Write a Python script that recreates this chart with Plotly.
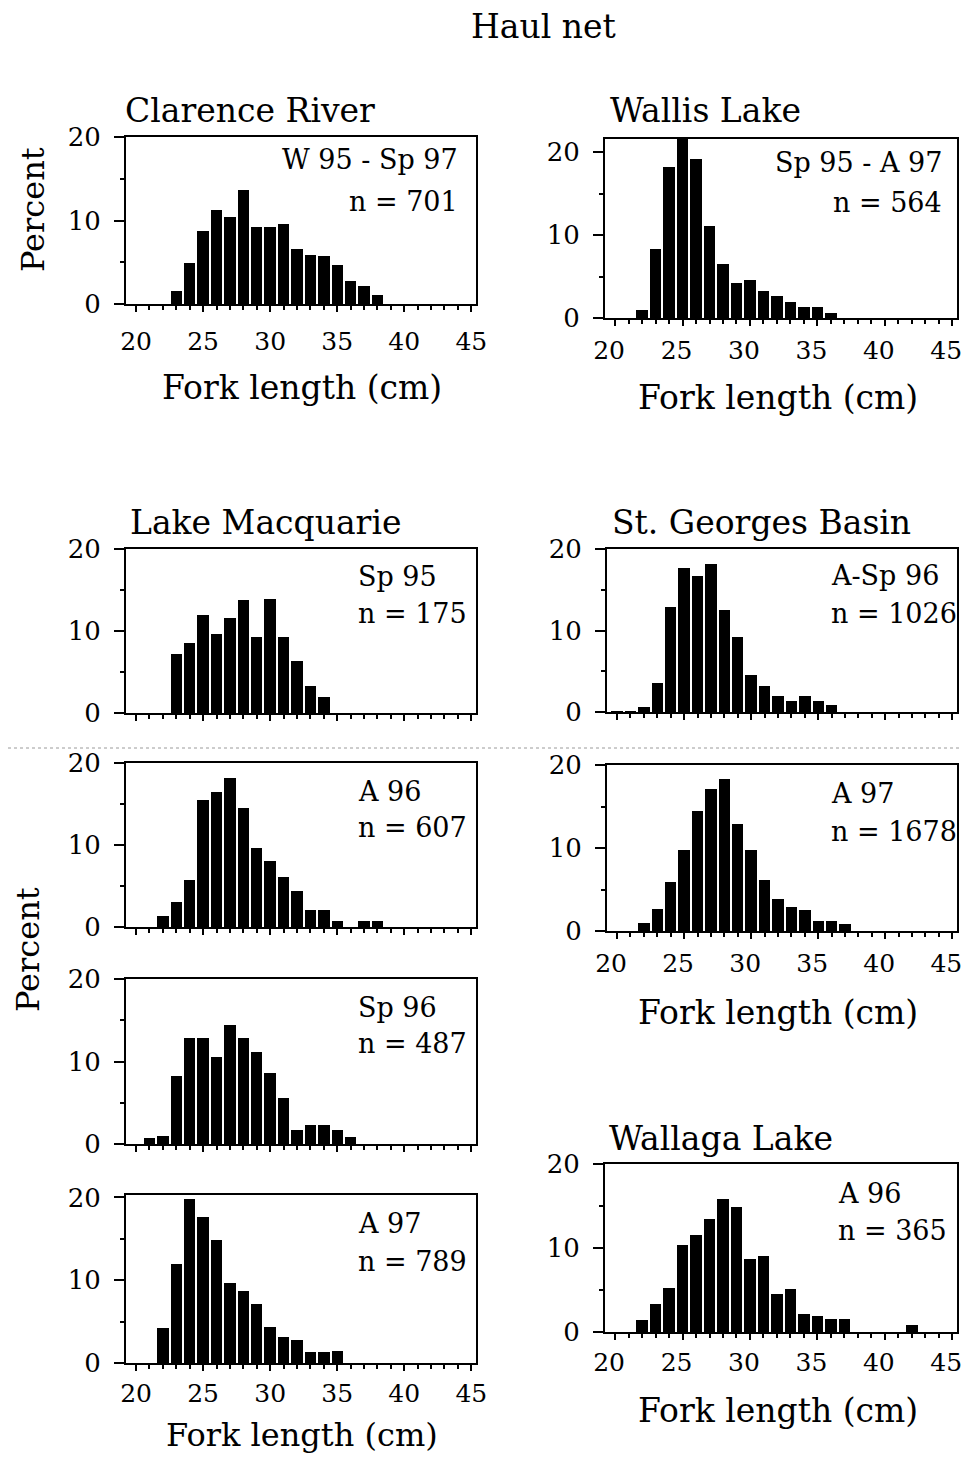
import plotly.graph_objects as go

# ---------------- data (fork length bins in cm, percent) ----------------
clarence_len = [23, 24, 25, 26, 27, 28, 29, 30, 31, 32, 33, 34, 35, 36, 37, 38]
clarence_pct = [1.6, 4.9, 8.8, 11.2, 10.4, 13.7, 9.2, 9.2, 9.6, 6.6, 5.9, 5.7, 4.7, 2.7, 2.1, 1.1]

wallis_len = [22, 23, 24, 25, 26, 27, 28, 29, 30, 31, 32, 33, 34, 35, 36]
wallis_pct = [1.0, 8.3, 18.2, 22.0, 19.2, 11.1, 6.5, 4.2, 4.6, 3.3, 2.6, 1.9, 1.3, 1.3, 0.6]

macq_sp95_len = [23, 24, 25, 26, 27, 28, 29, 30, 31, 32, 33, 34]
macq_sp95_pct = [7.2, 8.5, 11.9, 9.6, 11.6, 13.8, 9.3, 13.9, 9.3, 6.4, 3.3, 2.0]

macq_a96_len = [22, 23, 24, 25, 26, 27, 28, 29, 30, 31, 32, 33, 34, 35, 37, 38]
macq_a96_pct = [1.4, 3.1, 5.7, 15.5, 16.5, 18.2, 14.5, 9.6, 8.1, 6.1, 4.4, 2.1, 2.1, 0.7, 0.7, 0.7]

macq_sp96_len = [21, 22, 23, 24, 25, 26, 27, 28, 29, 30, 31, 32, 33, 34, 35, 36]
macq_sp96_pct = [0.7, 1.0, 8.2, 12.8, 12.8, 10.5, 14.4, 12.8, 11.2, 8.6, 5.6, 1.7, 2.3, 2.3, 1.7, 0.8]

macq_a97_len = [22, 23, 24, 25, 26, 27, 28, 29, 30, 31, 32, 33, 34, 35]
macq_a97_pct = [4.2, 12.0, 19.8, 17.6, 14.9, 9.7, 8.7, 7.1, 4.3, 3.2, 2.8, 1.3, 1.3, 1.5]

sg_asp96_len = [20, 21, 22, 23, 24, 25, 26, 27, 28, 29, 30, 31, 32, 33, 34, 35, 36]
sg_asp96_pct = [0.1, 0.1, 0.6, 3.6, 12.9, 17.7, 16.7, 18.1, 12.5, 9.2, 4.5, 3.2, 2.0, 1.4, 2.0, 1.4, 0.9]

sg_a97_len = [22, 23, 24, 25, 26, 27, 28, 29, 30, 31, 32, 33, 34, 35, 36, 37]
sg_a97_pct = [1.0, 2.6, 5.9, 9.8, 14.5, 17.1, 18.3, 12.9, 9.8, 6.1, 3.8, 2.9, 2.5, 1.2, 1.2, 0.9]

wallaga_len = [22, 23, 24, 25, 26, 27, 28, 29, 30, 31, 32, 33, 34, 35, 36, 37, 42]
wallaga_pct = [1.4, 3.3, 5.2, 10.4, 11.6, 13.5, 15.8, 14.9, 8.7, 9.0, 4.5, 5.1, 2.2, 1.9, 1.5, 1.5, 0.8]

x_ticks = [20, 25, 30, 35, 40, 45]
y_ticks = [0, 10, 20]

# ---------------- layout geometry (page pixels) ----------------
PAGE_W, PAGE_H = 969, 1462
BODY = 8                      # default page margin around the plot div
W, H = PAGE_W - 2 * BODY, PAGE_H - 2 * BODY
FONT = "DejaVu Serif"


def px(x):
    return (x - BODY) / W


def py(y):
    return 1 - (y - BODY) / H


# (len, pct, x0, x1, ytop, ybot, ymax, show_x_labels, standoff, labelshift,
#  label lines, label x, align, label y's)
panels = [
    (clarence_len, clarence_pct, 126, 476, 137, 304, 20.0, True, 8, 0,
     ["W 95 - Sp 97", "n = 701"], 460, "right", [160, 202]),
    (wallis_len, wallis_pct, 605, 957, 139, 318, 21.6, True, 3, -6,
     ["Sp 95 - A 97", "n = 564"], 944, "right", [163, 203]),
    (macq_sp95_len, macq_sp95_pct, 126, 476, 549, 713, 20.0, False, 0, 0,
     ["Sp 95", "n = 175"], 356, "left", [577, 613]),
    (macq_a96_len, macq_a96_pct, 126, 476, 763, 927, 20.0, False, 0, 0,
     ["A 96", "n = 607"], 356, "left", [791, 827]),
    (macq_sp96_len, macq_sp96_pct, 126, 476, 979, 1144, 20.0, False, 0, 0,
     ["Sp 96", "n = 487"], 356, "left", [1007, 1043]),
    (macq_a97_len, macq_a97_pct, 126, 476, 1195, 1363, 20.3, True, 1, 0,
     ["A 97", "n = 789"], 356, "left", [1223, 1261]),
    (sg_asp96_len, sg_asp96_pct, 607, 957, 549, 712, 20.0, False, 0, 0,
     ["A-Sp 96", "n = 1026"], 829, "left", [576, 613]),
    (sg_a97_len, sg_a97_pct, 607, 957, 765, 931, 20.0, True, 3, -6,
     ["A 97", "n = 1678"], 829, "left", [794, 831]),
    (wallaga_len, wallaga_pct, 605, 957, 1164, 1332, 20.0, True, 1, -6,
     ["A 96", "n = 365"], 836, "left", [1193, 1230]),
]

fig = go.Figure()
layout = {}
annotations = []

for i, (xs, ys, x0, x1, yt, yb, ymax, show_x, standoff, shift,
        lines, lx, align, lys) in enumerate(panels):
    n = "" if i == 0 else str(i + 1)
    fig.add_trace(go.Bar(
        x=xs, y=ys, width=0.85,
        marker=dict(color="black", line=dict(width=0)),
        xaxis="x" + n, yaxis="y" + n, showlegend=False,
    ))
    layout["xaxis" + n] = dict(
        domain=[px(x0), px(x1)], range=[19.25, 45.35], anchor="y" + n,
        showline=True, linecolor="black", linewidth=2, mirror=True,
        showgrid=False, zeroline=False, automargin=False,
        tickvals=x_ticks, ticks="outside", ticklen=6, tickwidth=2, tickcolor="black",
        minor=dict(dtick=1, tick0=20, ticks="outside", ticklen=4, tickwidth=2, tickcolor="black"),
        showticklabels=show_x, ticklabelstandoff=standoff, ticklabelshift=shift,
        ticklabeloverflow="allow",
        tickfont=dict(family=FONT, size=25, color="black"),
        fixedrange=True,
    )
    layout["yaxis" + n] = dict(
        domain=[py(yb), py(yt)], range=[0, ymax], anchor="x" + n,
        showline=True, linecolor="black", linewidth=2, mirror=True,
        showgrid=False, zeroline=False, automargin=False,
        tickvals=y_ticks, ticks="outside", ticklen=10, tickwidth=2, tickcolor="black",
        minor=dict(dtick=5, tick0=0, ticks="outside", ticklen=4, tickwidth=2, tickcolor="black"),
        ticklabelstandoff=8,
        tickfont=dict(family=FONT, size=26, color="black"),
        fixedrange=True,
    )
    for txt, ly in zip(lines, lys):
        annotations.append(dict(
            text=txt, x=px(lx), y=py(ly), xref="paper", yref="paper",
            xanchor=align, yanchor="middle", showarrow=False,
            font=dict(family=FONT, size=27, color="black"),
        ))

# titles
texts = [
    ("Haul net", 543, 27, "center", 0, 33),
    ("Clarence River", 123, 111, "left", 0, 33),
    ("Wallis Lake", 608, 111, "left", 0, 33),
    ("Lake Macquarie", 128, 522, "left", 0, 33),
    ("St. Georges Basin", 610, 522, "left", 0, 33),
    ("Wallaga Lake", 607, 1138, "left", 0, 33),
    ("Fork length (cm)", 302, 388, "center", 0, 33),
    ("Fork length (cm)", 778, 398, "center", 0, 33),
    ("Fork length (cm)", 778, 1012, "center", 0, 33),
    ("Fork length (cm)", 778, 1410, "center", 0, 33),
    ("Fork length (cm)", 302, 1435, "center", 0, 32),
    ("Percent", 33, 210, "center", -90, 32),
    ("Percent", 28, 950, "center", -90, 32),
]
for txt, x, y, anchor, ang, size in texts:
    annotations.append(dict(
        text=txt, x=px(x), y=py(y), xref="paper", yref="paper",
        xanchor=anchor, yanchor="middle", showarrow=False, textangle=ang,
        font=dict(family=FONT, size=size, color="black"),
    ))

fig.update_layout(
    width=W, height=H,
    margin=dict(l=0, r=0, t=0, b=0, pad=0, autoexpand=False),
    paper_bgcolor="white", plot_bgcolor="white",
    font=dict(family=FONT, color="black"),
    bargap=0,
    showlegend=False,
    annotations=annotations,
    shapes=[dict(type="line", xref="paper", yref="paper", x0=0, x1=1,
                 y0=py(748), y1=py(748), line=dict(color="#9a9a9a", width=1, dash="dot"))],
    **layout,
)

fig.write_html("out.html")
